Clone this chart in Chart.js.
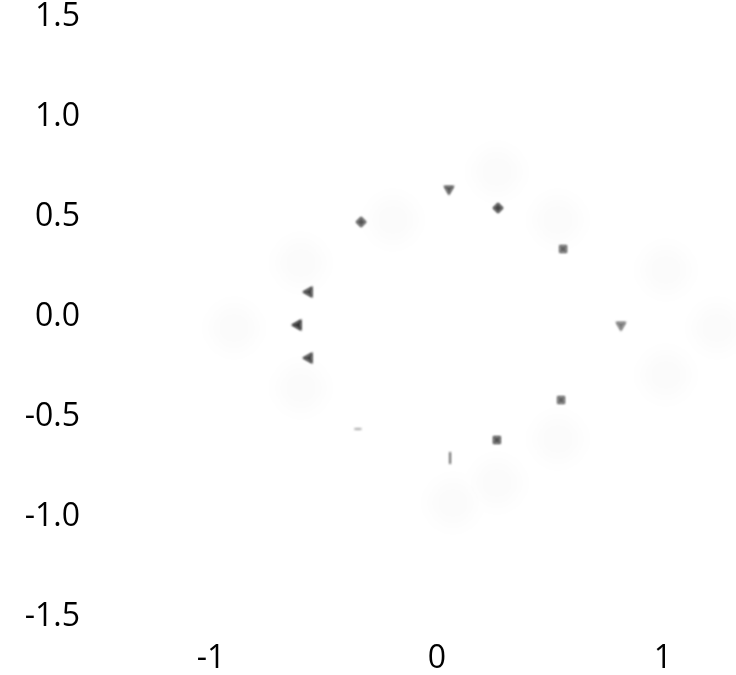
<!DOCTYPE html>
<html>
<head>
<meta charset="utf-8">
<script src="https://cdn.jsdelivr.net/npm/chart.js@4/dist/chart.umd.min.js"></script>
<style>
  html, body { margin: 0; padding: 0; background: #ffffff; }
  #wrap { width: 736px; height: 675px; }
</style>
</head>
<body>
<div id="wrap"><canvas id="c" width="736" height="675"></canvas></div>
<script>
// Marker positions on the ring
const ringX = [0.053, 0.27, 0.558, 0.814, 0.549, 0.265, 0.058, -0.35, -0.566, -0.615, -0.566, -0.336];
const ringY = [0.64, 0.545, 0.34, -0.04, -0.415, -0.615, -0.705, -0.56, -0.205, -0.04, 0.125, 0.475];

// Faint halo spots behind the ring
const haloX = [0.265, 0.535, 1.013, 1.239, 1.013, 0.535, 0.265, 0.071, -0.602, -0.602, -0.195, -0.898];
const haloY = [0.725, 0.485, 0.235, -0.055, -0.29, -0.61, -0.83, -0.93, -0.355, 0.27, 0.485, -0.055];

// Axis ticks
const xTicks = [-1, 0, 1];
const yTicks = [1.5, 1.0, 0.5, 0.0, -0.5, -1.0, -1.5];

const ring = ringX.map((x, i) => ({ x, y: ringY[i] }));
const halo = haloX.map((x, i) => ({ x, y: haloY[i] }));

const markerStyles = ['triangle', 'rectRot', 'rect', 'triangle', 'rect', 'rect', 'line', 'line', 'triangle', 'triangle', 'triangle', 'rect'];
const markerRotation = [180, 0, 0, 180, 0, 0, 90, 0, -90, -90, -90, 45];
const markerRadius = [5, 4.5, 4.5, 5, 4.5, 4.5, 6, 3.5, 5.5, 5.5, 5.5, 4.5];
const markerColor = ['#555', '#444', '#666', '#777', '#666', '#555', '#333', '#888', '#444', '#333', '#444', '#555'];

// Soft edges for the plotted marks only
const softMarks = {
  id: 'softMarks',
  beforeDatasetDraw(chart, args) {
    chart.ctx.save();
    chart.ctx.filter = args.index === 0 ? 'blur(8px)' : 'blur(1.2px)';
  },
  afterDatasetDraw(chart) { chart.ctx.restore(); }
};

const tickFont = { family: "'Open Sans', 'Liberation Sans', sans-serif", size: 32 };

new Chart(document.getElementById('c'), {
  type: 'scatter',
  data: {
    datasets: [
      {
        data: halo,
        pointRadius: 24,
        pointStyle: 'circle',
        backgroundColor: 'rgba(0,0,0,0.015)',
        borderWidth: 0,
        pointHoverRadius: 24,
        clip: false
      },
      {
        data: ring,
        pointStyle: markerStyles,
        rotation: markerRotation,
        pointRadius: markerRadius,
        backgroundColor: markerColor,
        borderColor: markerColor,
        borderWidth: 1.5
      }
    ]
  },
  plugins: [softMarks],
  options: {
    responsive: false,
    animation: false,
    events: [],
    layout: { autoPadding: false, padding: { top: 17, right: 0, left: 0, bottom: 0 } },
    plugins: { legend: { display: false }, tooltip: { enabled: false } },
    scales: {
      x: {
        type: 'linear',
        min: -1.5,
        max: 1.323,
        grid: { display: false, drawTicks: false },
        border: { display: false },
        afterBuildTicks(axis) { axis.ticks = xTicks.map(v => ({ value: v })); },
        afterFit(axis) {
          axis.height = 58;
          axis.paddingLeft = 0;
          axis.paddingRight = 0;
        },
        ticks: {
          color: '#000',
          font: tickFont,
          padding: 23,
          maxRotation: 0,
          callback: v => String(v)
        }
      },
      y: {
        type: 'linear',
        min: -1.5,
        max: 1.5,
        grid: { display: false, drawTicks: false },
        border: { display: false },
        afterBuildTicks(axis) { axis.ticks = yTicks.map(v => ({ value: v })); },
        afterFit(axis) {
          axis.width = 98;
          axis.paddingTop = 0;
          axis.paddingBottom = 0;
        },
        ticks: {
          color: '#000',
          font: tickFont,
          padding: 18,
          callback: v => v.toFixed(1)
        }
      }
    }
  }
});
</script>
</body>
</html>
